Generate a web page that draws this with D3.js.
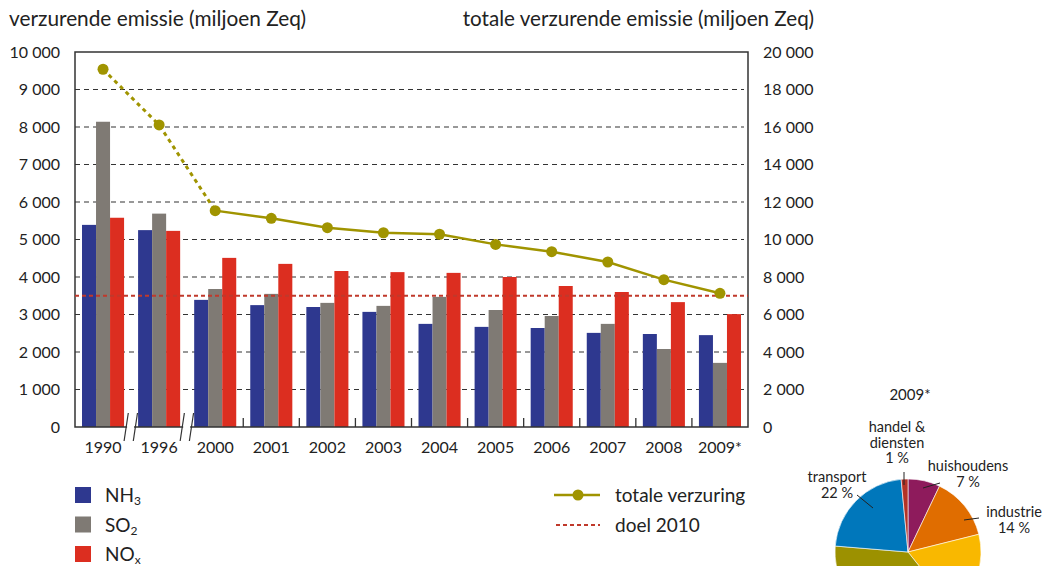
<!DOCTYPE html>
<html>
<head>
<meta charset="utf-8">
<script src="https://cdn.jsdelivr.net/npm/d3@7"></script>
<style>
  body { margin: 0; background: #fff; }
  svg { display: block; font-family: Lato, "Open Sans", sans-serif; }
  text { fill: #222; }
</style>
</head>
<body>
<svg id="chart" width="1044" height="566"></svg>
<script>
// categories and values
const years = ["1990", "1996", "2000", "2001", "2002", "2003", "2004", "2005", "2006", "2007", "2008", "2009*"]
const nh3 = [5390, 5250, 3390, 3250, 3200, 3070, 2750, 2670, 2640, 2510, 2480, 2450]
const so2 = [8140, 5690, 3680, 3550, 3310, 3230, 3470, 3120, 2960, 2750, 2080, 1710]
const nox = [5580, 5230, 4510, 4350, 4160, 4130, 4110, 4000, 3760, 3600, 3330, 3010]
const totaal = [19080, 16110, 11540, 11130, 10630, 10360, 10280, 9740, 9350, 8800, 7860, 7130]
const doel2010 = 3500
const leftTicks = [0, 1000, 2000, 3000, 4000, 5000, 6000, 7000, 8000, 9000, 10000]
const rightTicks = [0, 2000, 4000, 6000, 8000, 10000, 12000, 14000, 16000, 18000, 20000]

const sectors = ["huishoudens", "industrie", "energie", "landbouw", "transport", "handel & diensten"]
const sectorShare = [7.1, 14, 18.2, 37, 22.2, 1.5]
const sectorColors = ["#8e1b5c", "#e06d00", "#f9b800", "#9c9100", "#0077bb", "#b43326"]

const seriesNames = ["NH3", "SO2", "NOx"]
const seriesColors = ["#2e388f", "#7f7a74", "#dc2e20"]
const seriesData = [nh3, so2, nox]

const svg = d3.select("#chart")
const pLeft = 75, pRight = 748, pTop = 52, pBottom = 427

const x = d3.scaleBand().domain(years).range([pLeft, pRight]).paddingInner(0.25).paddingOuter(0.125)
const xs = d3.scaleBand().domain(seriesNames).range([0, x.bandwidth()])
const yL = d3.scaleLinear().domain([0, 10000]).range([pBottom, pTop])
const yR = d3.scaleLinear().domain([0, 20000]).range([pBottom, pTop])
const fmt = d => d3.format(",")(d).replace(/,/g, " ")

// titles
svg.append("text").attr("x", 9).attr("y", 26).attr("font-size", 20.8).text("verzurende emissie (miljoen Zeq)")
svg.append("text").attr("x", 814).attr("y", 26).attr("font-size", 20.6).attr("text-anchor", "end")
    .text("totale verzurende emissie (miljoen Zeq)")

// gridlines
svg.append("g").selectAll("line").data(leftTicks.slice(1, -1)).join("line")
    .attr("x1", pLeft).attr("x2", pRight - 4)
    .attr("y1", d => yL(d)).attr("y2", d => yL(d))
    .attr("stroke", "#333").attr("stroke-width", 1.2).attr("stroke-dasharray", "5,4")

// bars
const groups = svg.append("g").selectAll("g").data(years).join("g")
    .attr("transform", d => `translate(${x(d)},0)`)
groups.selectAll("rect").data((d, i) => seriesNames.map((s, k) => ({ s: s, v: seriesData[k][i], c: seriesColors[k] })))
    .join("rect")
    .attr("x", d => xs(d.s)).attr("width", xs.bandwidth())
    .attr("y", d => yL(d.v)).attr("height", d => pBottom - yL(d.v))
    .attr("fill", d => d.c)

// axes
const axL = svg.append("g").attr("transform", `translate(${pLeft},0)`)
    .call(d3.axisLeft(yL).tickValues(leftTicks).tickSize(0).tickPadding(15).tickFormat(fmt))
axL.select(".domain").remove()
axL.selectAll("text").attr("font-size", 16).attr("font-family", "Lato, sans-serif").style("fill", "#222")

const axR = svg.append("g").attr("transform", `translate(${pRight},0)`)
    .call(d3.axisRight(yR).tickValues(rightTicks).tickSize(0).tickPadding(15).tickFormat(fmt))
axR.select(".domain").remove()
axR.selectAll("text").attr("font-size", 16).attr("font-family", "Lato, sans-serif").style("fill", "#222")

const axB = svg.append("g").attr("transform", `translate(0,${pBottom})`)
    .call(d3.axisBottom(x).tickSize(0).tickPadding(15))
axB.select(".domain").remove()
axB.selectAll("text").attr("font-size", 16).attr("font-family", "Lato, sans-serif").style("fill", "#222")

// frame
svg.append("path")
    .attr("d", `M${pLeft},${pTop}H${pRight}V${pBottom}H${pLeft}Z`)
    .attr("fill", "none").attr("stroke", "#333").attr("stroke-width", 1.5)

// category ticks and axis breaks
const bounds = years.slice(1).map(d => x(d) - x.step() * x.paddingInner() / 2)
svg.append("g").selectAll("line").data(bounds.slice(2)).join("line")
    .attr("x1", d => d).attr("x2", d => d).attr("y1", pBottom).attr("y2", pBottom - 9)
    .attr("stroke", "#333").attr("stroke-width", 1.3)
const breaks = svg.append("g").selectAll("g").data(bounds.slice(0, 2)).join("g")
breaks.append("rect").attr("x", d => d - 4).attr("y", pBottom - 3).attr("width", 7).attr("height", 6).attr("fill", "#fff")
breaks.selectAll("line").data(d => [d - 7, d + 2.2]).join("line")
    .attr("x1", d => d).attr("x2", d => d + 4.2).attr("y1", pBottom + 14).attr("y2", pBottom - 14)
    .attr("stroke", "#333").attr("stroke-width", 1.2)

// doel 2010
svg.append("line").attr("x1", pLeft).attr("x2", pRight).attr("y1", yL(doel2010)).attr("y2", yL(doel2010))
    .attr("stroke", "#c0392b").attr("stroke-width", 2).attr("stroke-dasharray", "4,3")

// totale verzuring
const olive = "#a09400"
const line = d3.line().x(d => x(d.y) + x.bandwidth() / 2).y(d => yR(d.v))
const pts = years.map((y, i) => ({ y: y, v: totaal[i] }))
svg.append("path").attr("d", line(pts.slice(0, 3))).attr("fill", "none")
    .attr("stroke", olive).attr("stroke-width", 3).attr("stroke-dasharray", "4,4")
svg.append("path").attr("d", line(pts.slice(2))).attr("fill", "none")
    .attr("stroke", olive).attr("stroke-width", 2.5)
svg.append("g").selectAll("circle").data(pts).join("circle")
    .attr("cx", d => x(d.y) + x.bandwidth() / 2).attr("cy", d => yR(d.v)).attr("r", 5.5).attr("fill", olive)

// legend left
const subs = ["3", "2", "x"]
const leg = svg.append("g").selectAll("g").data(seriesNames).join("g")
    .attr("transform", (d, i) => `translate(75,${487 + i * 29.5})`)
leg.append("rect").attr("width", 16).attr("height", 16).attr("fill", (d, i) => seriesColors[i])
const lt = leg.append("text").attr("x", 30).attr("y", 15).attr("font-size", 19)
lt.append("tspan").text(d => d.slice(0, 2))
lt.append("tspan").attr("font-size", 12).attr("dy", 3).text((d, i) => subs[i])

// legend right
const lg2 = svg.append("g")
lg2.append("line").attr("x1", 554).attr("x2", 600).attr("y1", 495).attr("y2", 495).attr("stroke", olive).attr("stroke-width", 2.5)
lg2.append("circle").attr("cx", 578).attr("cy", 495).attr("r", 5.5).attr("fill", olive)
lg2.append("text").attr("x", 615).attr("y", 502).attr("font-size", 19).text("totale verzuring")
lg2.append("line").attr("x1", 556).attr("x2", 600).attr("y1", 525).attr("y2", 525)
    .attr("stroke", "#c0392b").attr("stroke-width", 2).attr("stroke-dasharray", "4,3")
lg2.append("text").attr("x", 615).attr("y", 532).attr("font-size", 19).text("doel 2010")

// pie 2009
const cx = 908, cy = 552, r = 73
svg.append("text").attr("x", 910).attr("y", 400).attr("font-size", 15).attr("text-anchor", "middle").text("2009*")
const pie = d3.pie().sort(null).value(d => d)(sectorShare)
const arc = d3.arc().innerRadius(0).outerRadius(r)
svg.append("g").attr("transform", `translate(${cx},${cy})`).selectAll("path").data(pie).join("path")
    .attr("d", arc).attr("fill", (d, i) => sectorColors[i]).attr("stroke", "#fff").attr("stroke-width", 0.6)

const pieLabels = [
    { lines: ["handel &", "diensten", "1 %"], x: 897, y: 432, lead: [904, 472, 904, 485] },
    { lines: ["huishoudens", "7 %"], x: 968, y: 471, lead: [923, 488, 940, 483] },
    { lines: ["industrie", "14 %"], x: 1014, y: 517, lead: [964, 520, 979, 518] },
    { lines: ["transport", "22 %"], x: 837, y: 482, lead: [857, 495, 873, 508] }
]
const pl = svg.append("g").selectAll("g").data(pieLabels).join("g")
pl.append("text").attr("font-size", 14.5).attr("text-anchor", "middle")
    .selectAll("tspan").data(d => d.lines.map((t, k) => ({ t: t, x: d.x, y: d.y + k * 15.5 }))).join("tspan")
    .attr("x", d => d.x).attr("y", d => d.y).text(d => d.t)
pl.append("line").attr("x1", d => d.lead[0]).attr("y1", d => d.lead[1]).attr("x2", d => d.lead[2]).attr("y2", d => d.lead[3])
    .attr("stroke", "#222").attr("stroke-width", 1)
</script>
</body>
</html>
